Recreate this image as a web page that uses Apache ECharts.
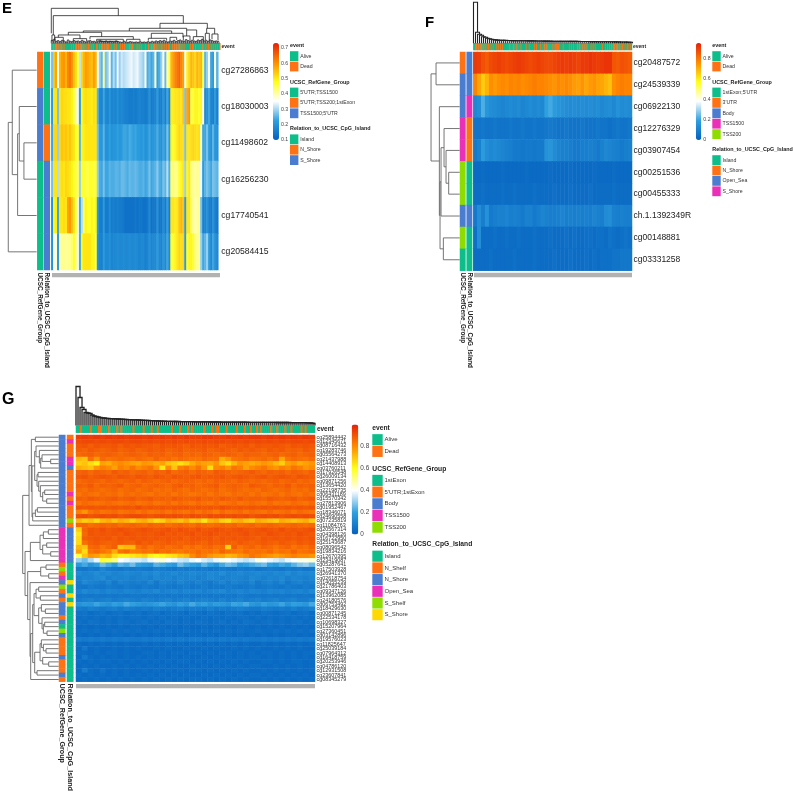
<!DOCTYPE html>
<html><head><meta charset="utf-8">
<style>html,body{margin:0;padding:0;background:#fff}#c{width:793px;height:794px;filter:blur(.45px)}</style>
<script src="https://cdn.jsdelivr.net/npm/echarts@6/dist/echarts.min.js"></script>
</head><body><div id="c"></div>
<script>
const COLORS=['#0460BE','#2E9FDF','#FFFFFF','#FFFF1A','#FF8C00','#E5200A'];
const PALETTE=['#0DBE8A','#FF7213','#4A7CD0','#EA2FB8','#8FDC00','#FFD800'];
const EVENT_NAMES=['Alive','Dead'];

/* ---------- panel E ---------- */
const E_ROWS=['cg27286863','cg18030003','cg11498602','cg16256230','cg17740541','cg20584415'];
const E_V0=[20,50,54,30,52,55,56,52,58,60,56,50,47,40,25,48,52,55,54,52,50,55,52,30,22,18,35,20,22,30,18,24,20,28,22,26,24,25,26,27,28,26,27,28,25,24,22,30,17,19,16,18,32,15,17,22,30,19,34,40,52,55,58,60,62,58,55,30,45,48,52,50,48,52,50,52,40,18,22,30,16,14,32,18];
const E_V1=[14,46,46,20,46,48,47,47,46,46,44,40,34,28,14,44,46,47,46,46,45,47,46,18,10,9,16,10,9,13,9,10,9,12,9,10,9,8,8,7,7,8,7,8,9,8,8,7,8,12,7,8,9,14,8,8,13,8,16,9,45,45,46,46,47,46,50,20,54,56,40,42,44,44,42,44,30,10,12,16,9,8,14,8];
const E_V2=[16,48,48,22,48,50,49,50,48,50,47,46,42,40,18,44,45,46,46,46,46,46,46,20,14,13,18,12,12,15,12,13,13,15,13,14,16,16,15,17,16,15,16,14,14,13,15,12,13,16,12,13,14,17,13,12,16,13,20,14,44,42,44,46,48,47,47,20,46,46,47,48,47,46,47,34,16,16,20,14,12,18,13,12];
const E_V3=[20,46,46,24,46,47,46,48,47,46,44,42,40,38,22,42,42,40,40,42,42,40,42,22,17,16,20,16,16,18,17,17,18,18,17,19,19,18,17,19,18,18,19,18,17,17,18,16,17,20,16,17,18,21,17,16,20,18,24,17,38,38,36,37,42,44,46,22,44,46,38,36,35,36,36,28,14,18,20,18,16,20,19,18];
const E_V4=[12,44,45,16,46,46,47,46,54,56,50,46,40,30,16,24,40,44,42,42,44,42,44,14,8,7,14,7,7,11,7,8,7,8,7,7,6,5,5,5,5,5,6,5,6,6,5,5,6,10,5,6,6,12,6,6,11,7,15,7,46,46,45,46,50,52,50,14,46,46,40,36,34,35,36,20,8,9,12,8,7,12,8,6];
const E_V5=[12,30,32,14,34,36,36,35,36,36,38,42,36,30,16,44,46,46,46,46,44,44,40,12,9,8,14,10,10,12,9,10,10,11,10,10,11,10,10,11,10,10,11,10,9,10,10,8,9,12,9,10,10,14,10,9,13,10,16,10,42,42,44,46,48,47,48,14,42,44,44,42,38,36,36,22,16,18,22,14,10,16,12,10];
const E_VALUES=[E_V0,E_V1,E_V2,E_V3,E_V4,E_V5];
const E_EVENT='DADADDADADDADAAAAAADADADDADADDADADADDADADAADDADADDADADDDADAADADAAADADADAAAADADDAAADADADAAADAADAADADDADADADDADADADDAADADADADDADADAAAAADADDADAAAAAADAADADDADADADADAD';
const E_GROUP_NAMES=["5'UTR;TSS1500","5'UTR;TSS200;1stExon","TSS1500;5'UTR"];
const E_ISLAND_NAMES=['Island','N_Shore','S_Shore'];
const E_GROUP=[1,2,2,0,0,0];
const E_ISLAND=[0,0,1,2,2,2];
const E_ROW_TREE=[[0,[[1,[2,3,38],52],4,57],73],5,85];
const E_COL_MERGES=[[0,201,30,83,105],[6,396,25,60,83],[326,468,45,45,60],[234,406,37,40,45],[96,361,33,30,37],[51,151,25,20,33],[21,86,18,14,25],[116,246,12,12,20],[11,36,8,6,18],[66,106,6,6,14],[300,395,15,18,30],[356,376,8,10,18],[291,346,8,8,15],[406,436,22,20,40],[396,416,8,6,22],[426,456,10,6,20],[466,490,30,28,45],[462,474,10,8,30],[482,500,12,8,28],[2,10,6,8,25],[136,216,6,5,12],[226,266,6,7,12],[146,200,4,4,6]];
const E_LEAF_H=[9,12,6,8,5,9,7,4,10,6,5,8,6,7,5,9,6,4,7,8,5,6,4,7,9,6,5,7,4,6,5,4,7,5,4,3,6,4,3,5,4,3,4,3,5,3,4,3,5,3,6,4,7,5,8,6,9,5,4,7,6,9,5,8,10,7,6,11,8,5,9,7,6,10,8,12,7,9,6,10,8,6,7,5];
const E_TICKS=[0.1,0.7,0.1];
const E_LIMITS=[0.01,0.71];

/* ---------- panel F ---------- */
const F_ROWS=['cg20487572','cg24539339','cg06922130','cg12276329','cg03907454','cg00251536','cg00455333','ch.1.1392349R','cg00148881','cg03331258'];
const F_V0=[91,90,87,85,88,89,90,89,88,89,90,91,90,89,88,89,90,89,88,88,89,90,91,90,91,90,89,91,91,92,91,90,91,92,92,86,85,87,86,85];
const F_V1=[78,72,66,70,76,74,76,77,76,78,77,78,76,77,78,79,78,78,77,76,75,77,76,77,76,74,73,75,72,74,75,73,72,70,68,76,78,79,78,78];
const F_V2=[12,14,22,16,14,13,12,11,12,13,12,13,11,12,13,12,13,12,19,21,18,16,15,14,13,14,13,14,13,14,13,14,12,13,14,12,15,13,14,13];
const F_V3=[6,6,7,6,6,7,6,6,6,7,6,6,7,6,6,7,6,6,7,8,7,6,6,7,6,6,6,7,6,6,6,7,6,6,5,6,7,6,6,7];
const F_V4=[8,10,18,14,12,13,12,11,10,9,8,8,7,8,8,7,8,8,15,16,13,11,10,10,9,8,8,9,9,10,9,8,10,12,11,10,9,8,9,10];
const F_V5=[3,3,4,3,3,3,3,4,3,3,3,3,3,4,3,3,3,3,3,4,3,3,3,3,4,3,3,3,3,3,4,3,3,3,3,4,3,3,3,3];
const F_V6=[4,4,5,4,4,4,4,5,4,4,5,4,4,4,4,5,4,4,4,4,5,4,4,4,5,4,4,4,4,5,4,4,4,4,4,5,4,4,4,4];
const F_V7=[8,14,9,15,8,9,10,10,11,9,10,9,8,10,10,8,9,11,10,9,9,10,11,9,10,9,10,9,10,9,11,10,9,13,14,10,9,10,9,9];
const F_V8=[5,14,4,4,4,5,4,4,5,4,4,5,4,4,4,5,4,4,4,5,4,4,4,5,4,5,4,4,5,5,4,5,5,4,6,5,4,5,6,5];
const F_V9=[4,4,4,4,5,4,4,4,4,4,5,4,4,4,4,5,4,4,4,4,5,4,4,4,5,4,4,4,5,4,5,4,5,5,5,6,6,7,7,7];
const F_VALUES=[F_V0,F_V1,F_V2,F_V3,F_V4,F_V5,F_V6,F_V7,F_V8,F_V9];
const F_EVENT='DADDADADDADADADDADADAADADADADAAAAAADAAADAADAAADAAAADAADAAAADADAAADAAADADAAAAADADDDDDAAADAAAAADADADAAADADAADADADAAADADADAAAAAADAADADADADADDADDADADDADADDADA';
const F_GROUP_NAMES=["1stExon;5'UTR","3'UTR",'Body','TSS1500','TSS200'];
const F_ISLAND_NAMES=['Island','N_Shore','Open_Sea','S_Shore'];
const F_GROUP=[1,2,2,3,3,4,4,2,4,0];
const F_ISLAND=[2,2,3,1,1,0,0,2,0,0];
const F_ROW_TREE=[[0,1,71],[2,[[[3,[4,[5,6,33],41],47],7,56],[8,9,49],59],61],86];
const F_COL_H=[41,11,9,8,6.5,6,5,4.5,4,3.6,3.4,3.2,3,3,2.9,2.9,2.8,2.8,2.7,2.7,2.6,2.6,2.6,2.5,2.5,2.5,2.4,2.4,2.4,2.4,2.3,2.3,2.3,2.3,2.2,2.2,2.2,2.2,2.1,2.1,2.1,2.1,2,2,2,2,2,1.9,1.9,1.9,1.9,1.9,1.8,1.8,1.8,1.8,1.8,1.7,1.7,1.7,1.7,1.6,1.6,1.6,1.6,1.5,1.5,1.5,1.5,1.4,1.4,1.4,1.3,1.3,1.3,1.2,1.2,1.1,1,0.8];
const F_TICKS=[0,0.8,0.2];
const F_LIMITS=[0,0.955];

/* ---------- panel G ---------- */
const G_ROWS=['cg25894442','cg12345671','cg08716432','cg19283746','cg05564273','cg21437988','cg14408913','cg03760211','cg17926548','cg26009134','cg09871256','cg13654420','cg22198735','cg06431189','cg15570342','cg27813906','cg01952467','cg18346071','cg24690558','cg07235819','cg11084763','cg20567314','cg04398126','cg16722950','cg25143687','cg08096542','cg19834216','cg12670395','cg23419087','cg05287641','cg17503928','cg26941370','cg02618754','cg14055239','cg21786403','cg09347126','cg13962085','cg24180576','cg06753492','cg18429630','cg00871245','cg22534178','cg10698327','cg15207964','cg27360451','cg03142896','cg19576023','cg11825647','cg25039184','cg07964312','cg16418759','cg20253946','cg04786120','cg12931508','cg23607841','cg08345279'];
const G_CELLS=[
"94959495949594959495 95949594959495949594 94959594949594959495 95949594959495949594",
"91929291929192929192 92919291929192919291 91929192929192919291 92919291929192929192",
"89908890898990889089 90898988908990898890 89908990888990899088 90898990898890899089",
"88878988878889878889 87888988898788898788 88898788898887898889 88878988898788878988",
"86878886878887868788 87868887888687888687 86888786878887868887 87868788868788868788",
"72708578868485868584 86858487858684868584 84868585747884858684 85868486758486858486",
"68706662767478807876 75787774767068656874 78767578706672787674 76787672687678747678",
"74727078828076828084 80828478648070828480 84786680827884827680 82848078828084827880",
"87888688878689878886 87888688878986878886 88878689888786878889 87868887888688878688",
"89908889908988908988 90898890898890898889 90888989908889908988 89908889908988908988",
"86878887868887868788 86888786878886878887 86878688878786888786 87868788868788868786",
"88878986888788898687 88868788878688898788 86878889868788878689 88878688878986888788",
"86858786858687858687 85868785868587868587 86858687858687868586 85878685868785868587",
"84868584868586848685 86858486858684868584 85868486858486858684 86848586848685848685",
"88878988878889878889 87888987888789888788 89878887898887898788 88878988878889878889",
"84868584858685848586 84858684858684868584 86858486848586848586 85848684858486858486",
"90899089908990899089 91899089908990909089 90899089919089908990 89908990899089908990",
"82788486848586848586 84868485868486858486 84868583868485868486 85848684858684868584",
"91929091929192909192 92919091929192919092 91909291929192919290 91929192909192919291",
"72687066727470747268 72747066687472707468 70647274686672747068 74727068747270727468",
"86878586878687858687 86858786878586878685 87868586878687858687 85868786858687868586",
"68879089918990919089 90919089909189919089 91899091908990919089 90919089918990899091",
"64869089908990899190 89908990918990899091 89909190899089909189 90899190899089919089",
"66888990899088908990 89908990899089908890 90899088908990899089 88908990899089908990",
"66858889888788898887 90888987888988878889 88878988898887898887 88898887898887898889",
"72708687848688707272 85878486878586878486 84868785866888848687 85878684868784868587",
"76668486848274848682 83858487858684838584 86848583878584838684 85848683858487848586",
"56707876727466626264 66686260626466707280 84827876767274788084 82807876788082808078",
"30263238585652403836 36343842444038353438 40363438424038363436 42403836343840424244",
"18221620262218242226 20181624222018262220 18242016222624182022 24262018222024283026",
"08070908120908070908 09080710090807090809 08090708090807090809 07080908070908090708",
"13111214121311121312 11131214111213111213 12111312141112131112 13121113121411131213",
"10121113141012111210 11121013111210121112 10111312101112111013 12101211131012111012",
"09131110091208111009 10091208111009121009 11090810120911100912 08101109120810110910",
"08070908070908070908 07090807090807080907 08090708070908070809 07080908070908070908",
"10131112101211101211 10121113101112101211 12101112131011121012 11101211121011121013",
"07080708070807080708 08070807080708070807 07080708070807090807 08070807080708070807",
"09101109101109101110 09111009101109101109 10111009110910110910 11091011091011090911",
"16181721181620182220 18161719211816201722 18201619181621202218 16201718211620191722",
"09081009080910081009 08090810090809100809 09081008090809100908 08100908090810080910",
"05060405060405060405 06040506040506050406 05040605040605060405 04060504050604050604",
"04050405040504050405 05040504050405040504 04050405040504050504 05040504050405040504",
"05040605040504060504 05060405040605040504 06050405060405040605 04050604050405060405",
"03040304030403040304 04030403040304030403 03040304030403040403 04030403040304030403",
"04050405040405040504 05040405040504040504 04050405040504050404 05040405040504050405",
"04030403040304040304 03040304030403040304 04030403040403040304 03040304030404030403",
"09080908090809080908 08090809080908090809 09080908090809080908 08090809080908090809",
"04030403040304030403 03040304030403040304 04030403040304030403 03040304030403040304",
"03070304030304030403 04030304030403030403 03040304030304030403 04030304030403040303",
"04040304030404030403 03040403040304040304 04030403040403040304 03040403040304030404",
"03080403040304030403 04030403040304030403 03040304030403040304 04030403040304030403",
"04030403040403040304 03040304030403040403 04030403040304030403 03040403040304040304",
"03040304030304030403 04030403040304030304 03040304030403040304 04030304030403040304",
"03090403060304030403 03040304030403040304 04030403040304030403 03040304030403040304",
"04030403040304030403 04030403040304030403 03040304030403040304 04030403040304030403",
"03040304030403040304 03040304030403040304 04030403040304030403 03040304030403040304"];
const G_EVENT='AADAAAADAAADDAAADAAADADAAAAADAAAADAAADAADAAAAAADAAADAAADADAAAAADAAADADDAAADAAAADAAADAADAADADAAAADAADAAADAADAAAADADAAAA';
const G_GROUP_NAMES=['1stExon',"5'UTR;1stExon",'Body','TSS1500','TSS200'];
const G_ISLAND_NAMES=['Island','N_Shelf','N_Shore','Open_Sea','S_Shelf','S_Shore'];
const G_GROUP=[2,2,2,2,2,2,2,2,2,2,2,2,2,2,2,2,2,2,2,2,2,3,3,3,3,3,3,3,3,1,4,1,3,2,4,1,2,1,2,2,2,1,2,0,4,2,1,1,1,1,2,1,1,1,2,1];
const G_ISLAND=[1,3,1,1,1,3,3,2,1,1,1,1,1,3,1,3,1,1,1,4,1,2,2,2,2,2,2,2,2,0,0,0,0,5,0,0,5,0,5,0,0,0,0,0,0,0,0,0,0,0,0,0,0,0,0,0];
const G_A1=[2,[3,[[4,[5,6,24],50],7,54],58],68];
const G_A2=[[8,9,62],[10,[11,[[12,13,42],[14,15,36],48],55],60],65];
const G_A3=[[16,17,64],18,70];
const G_A=[[[0,1,70],[[G_A1,G_A2,72],[G_A3,19,78],80],82],20,89];
const G_B=[[[[21,22,31],23,46],[[24,25,36],[26,27,24],48],56],28,85];
const G_C1=[[29,30,38],[31,32,30],54];
const G_D1=[[34,35,60],[36,37,55],68];
const G_D2=[[38,[39,40,40],52],[41,[[42,43,42],[44,45,35],46],50],60];
const G_D3=[[[46,[47,[48,49,38],46],52],[50,[51,52,30],48],56],[53,54,65],72];
const G_C2=[33,[[[G_D1,G_D2,74],G_D3,78],55,84],86];
const G_ROW_TREE=[G_A,[G_B,[G_C1,G_C2,93],101],108];
const G_COL_H=[39,28,18,16,13,12.5,12,10.5,9.5,9,8.5,8,7.7,7.5,7.2,7,6.9,6.8,6.7,6.6,6.5,6.4,6.3,6.2,6,5.9,5.8,5.7,5.7,5.6,5.5,5.4,5.3,5.2,5.1,5,4.9,4.8,4.7,4.6,4.5,4.4,4.3,4.3,4.2,4.2,4.1,4.1,4,4,4,3.9,3.9,3.9,3.8,3.8,3.8,3.8,3.7,3.7,3.7,3.7,3.6,3.6,3.6,3.6,3.5,3.5,3.5,3.5,3.5,3.4,3.4,3.4,3.4,3.4,3.4,3.3,3.3,3.3,3.3,3.3,3.3,3.3,3.3,3.2,3.2,3.2,3.2,3.2,3.2,3.2,3.1,3.1,3.1,3.1,3.1,3.1,3.1,3,3,3,3,3,3,3,2.9,2.9,2.9,2.9,2.9,2.8,2.8,2.8,2.7,2.6,2.5,2.3,2,1.6];
const G_TICKS=[0,0.8,0.2];
const G_LIMITS=[0,0.995];

/* ---------- assembling ---------- */
const parseCells=rows=>rows.map(s=>s.replace(/ /g,'').match(/../g).map(Number));
const chainTree=hs=>{let n=hs.length-1;for(let i=hs.length-2;i>=0;i--)n=[i,n,hs[i]];return n;};
function flatten(node,out){
  if(typeof node==='number')return{p:node,h:0};
  const a=flatten(node[0],out),b=flatten(node[1],out);
  out.push([a.p,b.p,a.h,b.h,node[2]]);
  return{p:(a.p+b.p)/2,h:node[2]};
}
const treeOf=t=>{const o=[];flatten(t,o);return o;};
const leafMerges=hs=>hs.map((h,i)=>[6*i,6*i+5,0,0,h]);

const grids=[],xAxes=[],yAxes=[],series=[],graphics=[],visualMaps=[],annotIdx=[];
const hidden={show:false};
function addGrid(r,x,y){
  grids.push({left:r[0],top:r[1],width:r[2],height:r[3],containLabel:false});
  const g=grids.length-1;
  xAxes.push(Object.assign({gridIndex:g,show:false},x));
  yAxes.push(Object.assign({gridIndex:g,show:false},y));
  return g;
}
const cat=n=>({type:'category',data:Array.from({length:n},(_,i)=>i)});
function annot(r,cols,rows,cells){
  const g=addGrid(r,cat(cols),Object.assign(cat(rows),{inverse:true}));
  annotIdx.push(series.length);
  series.push({type:'heatmap',xAxisIndex:g,yAxisIndex:g,data:cells,silent:true,progressive:0,animation:false});
}
function tree(r,merges,hMax,posRange,swap,lw,stroke){
  const hAxis={type:'value',min:0,max:hMax,inverse:swap};
  const pAxis={type:'value',min:posRange[0],max:posRange[1],inverse:swap};
  const g=swap?addGrid(r,hAxis,pAxis):addGrid(r,pAxis,hAxis);
  series.push({type:'custom',xAxisIndex:g,yAxisIndex:g,data:merges,silent:true,animation:false,clip:false,
    renderItem:(p,api)=>{
      const a=api.value(0),b=api.value(1),ha=api.value(2),hb=api.value(3),h=api.value(4);
      const pt=(q,v)=>api.coord(swap?[v,q]:[q,v]);
      return{type:'polyline',shape:{points:[pt(a,ha),pt(a,h),pt(b,h),pt(b,hb)]},style:{fill:'none',stroke:stroke,lineWidth:lw},silent:true};
    }});
}
function text(t,x,y,font,fill,rot){
  graphics.push({type:'text',x:x,y:y,rotation:rot||0,silent:true,style:{text:t,font:font,fill:fill,align:'left',verticalAlign:'middle'}});
}
function rect(x,y,w,h,fill){graphics.push({type:'rect',silent:true,shape:{x:x,y:y,width:w,height:h},style:{fill:fill}});}
function legend(L,groups){
  let y=L.y;
  groups.forEach(gr=>{
    text(gr[0],L.x,y,'bold '+L.title+'px "Liberation Sans"','#222');
    y+=L.step;
    gr[1].forEach((n,i)=>{
      rect(L.x,y-L.step/2+.3,L.box,L.step-.6,PALETTE[i]);
      text(n,L.x+L.box+1.8,y,L.item+'px "Liberation Sans"','#333');
      y+=L.step;
    });
    y+=L.gap-L.step;
  });
}
function panel(P){
  const rows=P.values.length,cols=P.values[0].length,m=P.main;
  text(P.letter,P.letterXY[0],P.letterXY[1],'bold '+P.letterSize+'px "Liberation Sans"','#000');
  const cells=[];P.values.forEach((r,j)=>r.forEach((v,i)=>cells.push([i,j,v/100])));
  const g=addGrid(m,Object.assign(cat(cols)),{show:true,type:'category',data:P.rowNames,inverse:true,position:'right',
    axisLine:hidden,axisTick:hidden,splitLine:hidden,
    axisLabel:{interval:0,fontSize:P.rowFont,fontFamily:'Liberation Sans',color:P.rowColor,margin:P.rowMargin,hideOverlap:false}});
  const mainIdx=series.length;
  series.push({type:'heatmap',xAxisIndex:g,yAxisIndex:g,data:cells,silent:true,progressive:0,animation:false});
  const B=P.bar;
  visualMaps.push({type:'continuous',seriesIndex:mainIdx,dimension:2,min:P.limits[0],max:P.limits[1],left:B[0],top:B[1],itemWidth:B[2],itemHeight:B[3],padding:0,
    calculable:false,hoverLink:false,text:null,showLabel:false,inRange:{color:COLORS},textStyle:{fontSize:1,color:'rgba(0,0,0,0)'}});
  addGrid([B[0],P.tickTop,B[2],B[1]+B[3]-P.tickTop],{type:'value',min:0,max:1},
    {show:true,type:'value',position:'right',min:P.ticks[0],max:P.ticks[1],interval:P.ticks[2],axisLine:hidden,axisTick:hidden,splitLine:hidden,
     axisLabel:{fontSize:P.tickFont,fontFamily:'Liberation Sans',color:'#444',margin:2}});
  annot(P.a1,1,rows,P.group.map((v,j)=>[0,j,v]));
  annot(P.a2,1,rows,P.island.map((v,j)=>[0,j,v]));
  const ev=P.event.split('');
  annot(P.ev,ev.length,1,ev.map((c,i)=>[i,0,EVENT_NAMES[0][0]===c?0:1]));
  tree(P.rowTree,P.rowMerges,P.rowTree[2]*3,[-.5,rows-.5],true,.9,'#666');
  tree(P.colTree,P.colMerges,P.colH,P.colX,false,P.colLw,'#222');
  rect(...P.grey,'#b2b2b2');
  text('event',P.evLabel[0],P.evLabel[1],'bold '+P.evLabel[2]+'px "Liberation Sans"','#222');
  text('UCSC_RefGene_Group',P.a1[0]+P.a1[2]/2,P.rotY,'bold '+P.rotFont+'px "Liberation Sans"','#222',-Math.PI/2);
  text('Relation_to_UCSC_CpG_Island',P.a2[0]+P.a2[2]/2,P.rotY,'bold '+P.rotFont+'px "Liberation Sans"','#222',-Math.PI/2);
  legend(P.legend,[['event',EVENT_NAMES],['UCSC_RefGene_Group',P.groupNames],['Relation_to_UCSC_CpG_Island',P.islandNames]]);
}

panel({letter:'E',letterXY:[2,9],letterSize:15,values:E_VALUES,rowNames:E_ROWS,rowFont:8.6,rowColor:'#222',rowMargin:3,
  main:[51.3,52,167,218],a1:[37.3,52,5.8,218],a2:[44,52,5.8,218],ev:[51.3,43.3,169,6.5],
  rowTree:[3.6,52,33,218],colTree:[51.3,0,168.7,43.3],rowMerges:treeOf(E_ROW_TREE),
  colMerges:E_COL_MERGES.concat(leafMerges(E_LEAF_H)),colH:130,colX:[0,506],colLw:.8,
  bar:[273,43,6,97],limits:E_LIMITS,ticks:E_TICKS,tickTop:48,tickFont:5.2,
  group:E_GROUP,island:E_ISLAND,event:E_EVENT,groupNames:E_GROUP_NAMES,islandNames:E_ISLAND_NAMES,
  grey:[52,273,168,4.2],evLabel:[221.5,47,5],rotY:272.5,rotFont:6.4,
  legend:{x:290,y:45.7,step:10.4,gap:15.6,box:8.4,title:5.4,item:5.2}});

panel({letter:'F',letterXY:[425,22.5],letterSize:15,values:F_VALUES,rowNames:F_ROWS,rowFont:8.5,rowColor:'#222',rowMargin:1.5,
  main:[473.3,52,158.7,218.7],a1:[460,52,5.4,218.7],a2:[466.7,52,5.4,218.7],ev:[473.3,43.3,158.7,6.7],
  rowTree:[426.7,52,33,218.7],colTree:[473.5,0,159,43.3],rowMerges:treeOf(F_ROW_TREE),
  colMerges:treeOf(chainTree(F_COL_H)),colH:43.3,colX:[0,79],colLw:1.1,
  bar:[696,43,5.3,97],limits:F_LIMITS,ticks:F_TICKS,tickTop:58.7,tickFont:5.2,
  group:F_GROUP,island:F_ISLAND,event:F_EVENT,groupNames:F_GROUP_NAMES,islandNames:F_ISLAND_NAMES,
  grey:[474,272.7,158,4.5],evLabel:[633,47,5],rotY:272.5,rotFont:6.4,
  legend:{x:712.3,y:45.7,step:10.4,gap:15.6,box:8.4,title:5.4,item:5.2}});

panel({letter:'G',letterXY:[2,400],letterSize:16,values:parseCells(G_CELLS),rowNames:G_ROWS,rowFont:5.4,rowColor:'#333',rowMargin:1.5,
  main:[76,435,239,246.7],a1:[59,435,6.3,246.7],a2:[67,435,6.3,246.7],ev:[76,425.7,239,7],
  rowTree:[18.7,435,40,246.7],colTree:[76,380,239,45.5],rowMerges:treeOf(G_ROW_TREE),
  colMerges:treeOf(chainTree(G_COL_H)),colH:45.5,colX:[0,119],colLw:1.3,
  bar:[351.7,424.5,6.6,110],limits:G_LIMITS,ticks:G_TICKS,tickTop:446,tickFont:6.4,
  group:G_GROUP,island:G_ISLAND,event:G_EVENT,groupNames:G_GROUP_NAMES,islandNames:G_ISLAND_NAMES,
  grey:[76,684,239,4.2],evLabel:[317,429,6.4],rotY:683.5,rotFont:7.2,
  legend:{x:372.3,y:428,step:11.7,gap:17.3,box:10.4,title:6.7,item:6}});

visualMaps.push({type:'piecewise',show:false,seriesIndex:annotIdx,dimension:2,
  pieces:PALETTE.map((c,i)=>({value:i,color:c}))});

const chart=echarts.init(document.getElementById('c'));
chart.setOption({animation:false,backgroundColor:'#fff',grid:grids,xAxis:xAxes,yAxis:yAxes,series:series,visualMap:visualMaps,graphic:{elements:graphics}});
</script></body></html>
